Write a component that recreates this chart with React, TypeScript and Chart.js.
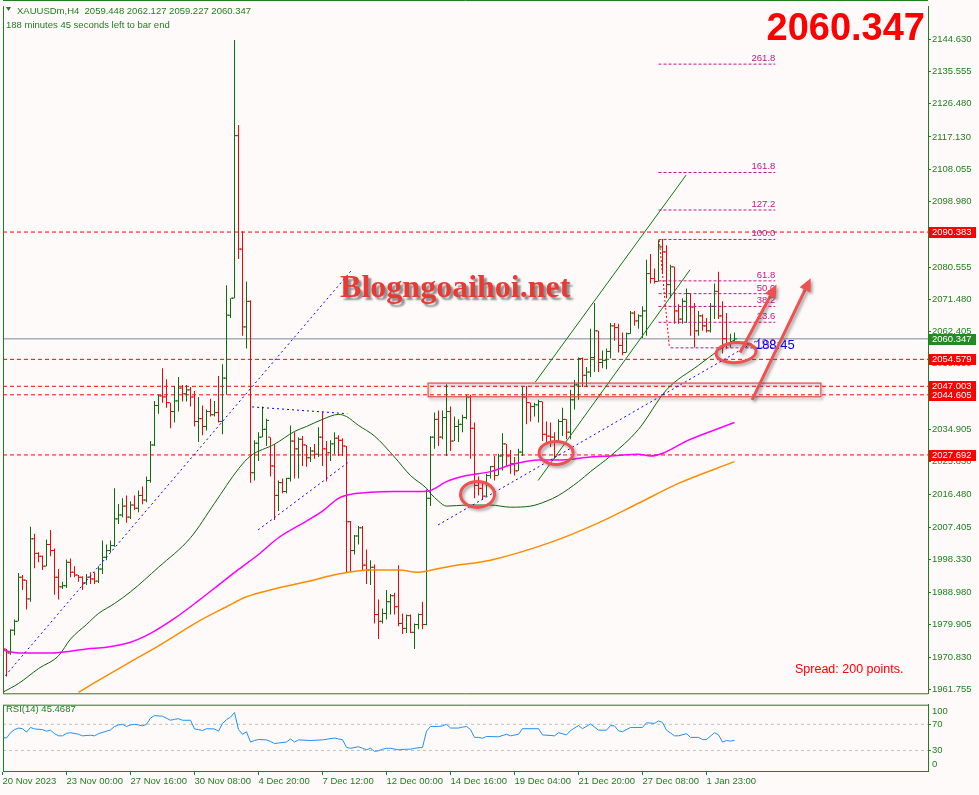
import React, { useEffect, useRef } from "react";
import { Chart, registerables } from "chart.js";
Chart.register(...registerables);

// ---------------- DATA ----------------
const opens = [1980.0,1973.1,1972.0,1978.4,1980.9,1993.3,1992.5,1987.2,2004.1,2000.0,1999.2,1996.4,2002.5,2000.8,1993.3,1990.6,1990.9,1997.5,1994.7,1993.9,1993.3,1991.7,1993.3,1992.8,1992.2,1995.6,1998.9,2000.8,2002.2,2009.7,2010.8,2013.3,2010.2,2013.6,2012.7,2016.3,2015.0,2020.5,2030.5,2041.6,2044.3,2044.0,2042.4,2039.9,2042.9,2046.5,2044.9,2046.0,2044.0,2037.1,2037.9,2035.7,2039.9,2039.0,2039.6,2037.1,2049.3,2067.0,2071.8,2117.5,2085.6,2063.7,2070.9,2022.7,2031.0,2032.7,2034.9,2032.7,2024.6,2016.3,2019.9,2017.4,2021.1,2031.6,2029.4,2032.1,2030.5,2026.9,2028.8,2027.9,2032.7,2029.4,2028.3,2030.8,2032.4,2031.8,2030.2,2008.9,2000.8,2004.9,2007.2,1996.7,1995.3,1996.1,1982.8,1980.9,1983.1,1986.4,1988.1,1985.0,1980.3,1978.9,1982.5,1977.8,1980.0,1982.8,1980.0,2015.5,2032.7,2037.7,2032.7,2038.2,2039.9,2031.6,2035.7,2036.3,2038.2,2044.0,2035.2,2019.1,2018.3,2016.1,2021.9,2024.4,2021.9,2027.4,2030.8,2027.4,2025.2,2023.2,2028.5,2044.0,2042.4,2041.3,2041.8,2042.7,2033.5,2033.0,2032.7,2031.6,2037.1,2037.7,2034.1,2043.2,2047.4,2054.8,2050.1,2051.0,2055.1,2062.6,2053.7,2054.3,2056.8,2064.0,2063.5,2058.5,2056.5,2061.8,2067.6,2065.4,2066.8,2068.2,2078.7,2077.3,2076.5,2086.2,2084.8,2075.6,2080.6,2068.2,2065.9,2070.9,2073.1,2069.3,2062.6,2066.8,2064.0,2062.6,2069.5,2073.7,2066.8,2060.4,2058.7,2059.448];
const highs = [1980.6,1973.1,1978.7,1981.4,1994.5,1993.9,1992.5,2007.5,2005.5,2000.3,1999.4,2003.9,2006.6,2001.4,1995.6,1992.0,1998.3,1998.6,1996.4,1993.9,1993.6,1994.2,1994.7,1994.7,1996.4,2003.6,2002.5,2003.6,2018.3,2013.9,2015.5,2016.3,2014.7,2016.3,2017.7,2018.8,2021.6,2031.6,2042.9,2044.6,2052.1,2049.0,2042.4,2047.1,2049.6,2047.4,2047.4,2046.8,2045.7,2044.0,2041.6,2040.5,2043.5,2042.9,2049.9,2053.2,2075.4,2071.8,2144.4,2120.5,2090.6,2076.5,2071.2,2031.8,2034.1,2041.3,2037.9,2032.7,2030.8,2020.5,2021.1,2021.3,2036.0,2034.1,2032.7,2033.0,2030.5,2029.9,2030.8,2035.5,2039.9,2031.6,2031.8,2034.1,2033.2,2032.4,2030.2,2009.1,2005.2,2007.7,2007.7,2001.1,1998.1,1996.9,1987.0,1984.5,1989.7,1988.6,1988.9,1996.7,1983.1,1982.8,1982.8,1980.3,1983.1,1986.4,2018.0,2033.0,2039.6,2040.2,2040.2,2047.6,2041.3,2038.5,2037.7,2039.0,2044.6,2044.6,2036.8,2021.6,2020.2,2022.4,2024.6,2027.4,2028.0,2033.8,2030.8,2029.1,2027.1,2029.4,2046.8,2047.1,2042.4,2042.4,2043.2,2042.7,2037.1,2036.8,2034.1,2037.7,2041.0,2037.7,2046.0,2048.8,2055.1,2055.1,2052.4,2063.2,2070.4,2062.6,2057.1,2057.6,2064.8,2064.8,2064.6,2062.1,2062.1,2068.2,2068.2,2067.3,2069.5,2082.6,2084.2,2080.1,2088.1,2088.4,2086.7,2081.2,2080.6,2070.1,2071.8,2074.5,2073.1,2070.4,2068.2,2067.3,2066.2,2070.4,2075.9,2079.2,2070.9,2067.6,2061.8,2062.127];
const lows = [1972.3,1965.4,1971.5,1977.0,1980.9,1989.7,1984.2,1986.4,1995.8,1997.5,1995.3,1996.4,1999.2,1988.4,1987.0,1990.0,1990.3,1993.3,1993.3,1992.0,1989.7,1991.1,1991.4,1991.4,1991.7,1994.2,1998.1,2000.3,2001.9,2008.3,2010.2,2008.6,2009.7,2012.2,2011.6,2013.8,2014.4,2019.9,2030.2,2039.3,2042.4,2041.0,2035.2,2036.8,2039.9,2042.7,2042.7,2041.3,2035.7,2031.3,2033.2,2034.6,2038.5,2038.5,2036.8,2033.5,2044.6,2066.2,2071.8,2082.8,2061.2,2057.6,2019.9,2020.5,2026.0,2032.7,2030.2,2021.6,2009.4,2011.9,2016.9,2016.9,2020.2,2021.1,2021.1,2024.6,2024.4,2025.7,2026.6,2027.1,2024.6,2020.2,2026.0,2027.9,2027.4,2027.4,1994.7,1994.7,1999.7,2002.5,1995.3,1991.4,1991.1,1980.3,1975.9,1980.3,1981.4,1982.8,1982.8,1979.5,1977.3,1977.6,1977.6,1973.1,1978.7,1978.7,1979.8,2013.3,2029.4,2030.2,2032.1,2027.4,2028.8,2031.6,2031.3,2034.1,2037.7,2026.6,2015.5,2016.3,2015.0,2016.1,2021.1,2020.5,2021.9,2023.3,2024.4,2022.4,2021.9,2023.2,2027.4,2036.3,2037.1,2038.5,2036.8,2031.6,2031.3,2029.9,2026.6,2031.6,2033.0,2032.1,2032.1,2040.5,2043.2,2046.8,2046.8,2049.6,2051.0,2051.0,2052.1,2051.8,2054.9,2059.8,2056.5,2055.7,2056.5,2061.8,2064.0,2063.2,2060.6,2061.2,2075.9,2075.9,2076.5,2078.7,2071.8,2071.8,2064.6,2064.6,2064.6,2064.8,2061.2,2057.9,2061.2,2062.6,2062.1,2062.1,2065.9,2065.9,2056.2,2057.6,2057.9,2059.227];
const closes = [1973.1,1972.0,1978.4,1980.9,1993.3,1992.5,1987.2,2004.1,2000.0,1999.2,1996.4,2002.5,2000.8,1993.3,1990.6,1990.9,1997.5,1994.7,1993.9,1993.3,1991.7,1993.3,1992.8,1992.2,1995.6,1998.9,2000.8,2002.2,2009.7,2010.8,2013.3,2010.2,2013.6,2012.7,2016.3,2015.0,2020.5,2030.5,2041.6,2044.3,2044.0,2042.4,2039.9,2042.9,2046.5,2044.9,2046.0,2044.0,2037.1,2037.9,2035.7,2039.9,2039.0,2039.6,2037.1,2049.3,2067.0,2071.8,2117.5,2085.6,2063.7,2070.9,2022.7,2031.0,2032.7,2034.9,2037.4,2024.6,2016.3,2019.9,2017.4,2021.1,2031.6,2029.4,2032.1,2030.5,2026.9,2028.8,2027.9,2032.7,2029.4,2028.3,2030.8,2032.4,2031.8,2030.2,2008.9,2000.8,2004.9,2007.2,1996.7,1995.3,1996.1,1982.8,1980.9,1983.1,1986.4,1988.1,1985.0,1980.3,1978.9,1982.5,1977.8,1980.0,1982.8,1980.0,2015.5,2032.7,2037.7,2032.7,2038.2,2039.9,2031.6,2035.7,2036.3,2038.2,2044.0,2035.2,2019.1,2018.3,2016.1,2021.9,2024.4,2021.9,2027.4,2030.8,2027.4,2025.2,2023.2,2028.5,2044.0,2042.4,2041.3,2041.8,2042.7,2033.5,2033.0,2032.7,2031.6,2037.1,2037.7,2034.1,2043.2,2047.4,2054.8,2050.1,2051.0,2055.1,2062.6,2053.7,2054.3,2056.8,2064.0,2063.5,2058.5,2056.5,2061.8,2067.6,2065.4,2066.8,2068.2,2078.7,2077.3,2076.5,2086.2,2084.8,2075.6,2080.6,2068.2,2065.9,2070.9,2073.1,2069.3,2062.6,2066.8,2064.0,2062.6,2069.5,2073.7,2066.8,2060.4,2058.7,2059.4,2060.347];

const timeLabels = ["20 Nov 2023","23 Nov 00:00","27 Nov 16:00","30 Nov 08:00","4 Dec 20:00","7 Dec 12:00","12 Dec 00:00","14 Dec 16:00","19 Dec 04:00","21 Dec 20:00","27 Dec 08:00","1 Jan 23:00"];
const timeLabelBars = [0,16,32,48,64,80,96,112,128,144,160,176];

const priceTicks = [2144.630,2135.555,2126.480,2117.130,2108.055,2098.980,2089.905,2080.555,2071.480,2062.405,2053.330,2043.980,2034.905,2025.830,2016.480,2007.405,1998.330,1988.980,1979.905,1970.830,1961.755];
const levelPrices = [2090.383, 2054.579, 2047.003, 2044.605, 2027.692];
const bidPrice = 2060.347;
const spreadPoints = 200;

const maFastBars = [0,4,9,14,17,21,24,28,32,39,47,53,59,62,68,73,76,80,84,86,89,93,98,102,106,107,109,111,116,122,127,132,136,139,144,147,152,159,166,174,179,183];
const maFastValues = [1960.9,1963.4,1967.6,1971.2,1975.9,1980.0,1983.1,1985.9,1989.2,1996.1,2004.4,2014.1,2023.8,2027.4,2030.7,2034.3,2035.7,2037.7,2039.1,2038.5,2036.0,2033.0,2027.1,2021.9,2018.3,2016.9,2014.7,2013.3,2013.6,2013.6,2013.0,2013.3,2014.7,2016.3,2020.2,2023.0,2027.4,2034.9,2046.0,2052.9,2057.1,2060.1];
const maMidBars = [0,4,12,17,21,26,32,37,43,49,54,59,64,69,76,80,84,87,92,98,105,107,111,116,122,128,134,140,147,152,159,162,172,183];
const maMidValues = [1972.8,1972.0,1972.0,1972.5,1973.1,1973.6,1975.0,1977.5,1981.7,1986.7,1991.1,1995.5,1999.7,2004.4,2009.1,2011.9,2015.5,2016.6,2017.2,2017.4,2017.4,2017.7,2020.2,2021.9,2023.0,2025.2,2026.3,2026.3,2027.1,2027.4,2027.9,2027.4,2032.1,2036.8];
const maSlowBars = [19,24,32,39,49,56,61,68,76,84,92,99,104,106,112,122,137,149,159,169,183];
const maSlowValues = [1960.9,1964.3,1969.5,1974.0,1980.9,1985.0,1987.8,1990.0,1992.0,1994.2,1995.3,1995.3,1994.7,1995.0,1996.4,1998.1,2003.1,2008.6,2014.1,2019.7,2025.8];

const rsiBars = [0,1,2,3,4,5,6,7,8,10,11,12,13,14,15,16,17,19,20,22,23,24,26,27,28,29,30,31,32,33,34,35,36,37,38,40,42,43,44,45,47,48,49,50,51,53,54,55,56,57,58,59,60,61,62,63,64,66,67,68,69,71,72,73,74,77,80,83,84,85,86,87,89,90,91,92,93,94,95,96,97,99,101,102,103,105,106,107,109,110,111,112,114,115,116,117,118,119,120,121,124,126,127,129,130,134,135,138,139,141,142,144,145,147,149,151,152,153,154,155,157,160,161,163,164,165,166,168,169,171,172,174,175,176,178,179,180,181,182,183];
const rsiValues = [50.0,49.0,57.1,61.9,64.3,63.3,58.1,65.2,62.9,61.9,59.5,61.0,55.7,52.4,52.4,56.2,57.1,54.8,52.4,53.3,52.4,55.7,59.5,61.4,66.7,69.0,70.0,66.7,69.0,70.0,69.0,67.6,70.0,79.5,83.3,82.4,76.2,77.6,78.6,76.2,76.2,62.9,61.9,60.5,63.3,62.9,59.5,71.4,77.1,81.0,88.1,61.9,54.8,58.6,42.9,45.2,46.7,46.2,43.8,40.5,41.4,42.9,47.6,42.9,46.2,45.2,46.2,49.0,47.6,46.5,34.8,33.3,35.7,33.3,31.0,33.3,28.6,29.5,31.9,33.3,33.3,31.0,31.9,31.9,33.3,34.8,59.5,66.7,66.7,67.6,70.0,64.3,64.3,65.7,66.7,61.9,50.0,50.0,48.6,51.4,50.9,54.8,52.4,54.8,63.3,63.3,53.8,52.4,57.1,53.8,60.5,68.1,63.3,70.5,61.0,61.0,68.1,67.6,60.0,58.6,65.2,65.2,72.4,71.4,75.2,72.9,61.0,52.4,52.4,55.7,50.0,50.0,46.7,46.7,57.1,53.8,42.9,45.2,44.3,45.4687];
const rsiLevels = [70, 30];

const fibLevels = [0, 23.6, 38.2, 50, 61.8, 100, 127.2, 161.8, 261.8];
const fibLow = 2057.82;
const fibHigh = 2088.30;

// drawings in (bar index, price) space
const blueTrendLines = [[0.7,1965.6,87.4,2079.8],[62.4,2041.2,86.2,2039.3],[63.9,2006.6,86.9,2026.0],[108.9,2008.0,189.4,2060.4]];
const channelLines = [[133.2,2048.2,170.9,2106.4],[133.9,2020.5,171.9,2079.8]];
const fibDrawing = { start: 164, zeroStart: 167, end: 193.2, diag: [164.2, 2088.1, 166.7, 2058.2] };
const zoneRect = [106.4, 2047.9, 204.6, 2044.05];
const ellipses = [{ b: 118.75, p: 2016.6, rx: 17, ry: 13, rot: 0 }, { b: 138.4, p: 2028.25, rx: 17, ry: 11.5, rot: 0 }, { b: 183.4, p: 2056.5, rx: 20, ry: 10, rot: -0.08 }];
const arrows = [[184.4, 2056.5, 193.5, 2075.6], [187.4, 2043.2, 202.05, 2077.4]];
const watermark = { b: 84.4, p: 2072.0, text: "Blogngoaihoi.net" };
const timerLabel = { b: 188.1, p: 2058.5, text: "188:45" };

// ---------------- STYLE ----------------
const X_MIN = 0.125, X_MAX = 231.375;
const P_MIN = 1960.65, P_MAX = 2153.77;
const GREEN = "#1f7f1f";
const UP = "#0b6e0b";
const DOWN = "#ff0000";
const FIB = "#c71585";
const FONT = "'Liberation Sans', Arial, sans-serif";
Chart.defaults.font.family = FONT;

const barIdx = opens.map((_, i) => i);
const barColors = barIdx.map((i) => (closes[i] >= opens[i] ? UP : DOWN));

const lineDs = (pts: any[], color: string, width: number, dash: number[] = [], order = 1, smooth = false) => ({
  type: "line",
  data: pts,
  borderColor: color,
  borderWidth: width,
  borderDash: dash,
  pointRadius: 0,
  pointHoverRadius: 0,
  fill: false,
  order,
  tension: smooth ? 0.4 : 0,
  cubicInterpolationMode: smooth ? "monotone" : "default",
});

function drawArrow(ctx: CanvasRenderingContext2D, x1: number, y1: number, x2: number, y2: number) {
  const ang = Math.atan2(y2 - y1, x2 - x1);
  const head = 13, hw = 6;
  const bx = x2 - head * Math.cos(ang), by = y2 - head * Math.sin(ang);
  ctx.beginPath(); ctx.moveTo(x1, y1); ctx.lineTo(bx, by); ctx.stroke();
  ctx.beginPath(); ctx.moveTo(x2, y2);
  ctx.lineTo(bx + hw * Math.sin(ang), by - hw * Math.cos(ang));
  ctx.lineTo(bx - hw * Math.sin(ang), by + hw * Math.cos(ang));
  ctx.closePath(); ctx.fill();
}

const overlayA = {
  id: "overlayA",
  afterDatasetsDraw(chart: any) {
    const { ctx, chartArea: ca, scales } = chart;
    const X = (b: number) => scales.x.getPixelForValue(b);
    const Y = (p: number) => scales.y.getPixelForValue(p);
    ctx.save();
    ctx.beginPath(); ctx.rect(ca.left, ca.top, ca.right - ca.left, ca.bottom - ca.top); ctx.clip();
    // fib labels
    ctx.font = `9.5px ${FONT}`; ctx.fillStyle = FIB; ctx.textAlign = "right"; ctx.textBaseline = "bottom";
    fibLevels.forEach((l) => {
      const p = fibLow + ((fibHigh - fibLow) * l) / 100;
      ctx.fillText(l.toFixed(1), X(fibDrawing.end), Y(p) - 1);
    });
    // timer label
    ctx.font = `13px ${FONT}`; ctx.fillStyle = "#0000ff"; ctx.textAlign = "left"; ctx.textBaseline = "middle";
    ctx.fillText(timerLabel.text, X(timerLabel.b), Y(timerLabel.p));
    // shadowed drawings
    ctx.shadowColor = "rgba(60,60,60,0.45)"; ctx.shadowBlur = 3; ctx.shadowOffsetX = 2; ctx.shadowOffsetY = 2;
    ctx.strokeStyle = "#e34848"; ctx.lineWidth = 1.2;
    const rx1 = X(zoneRect[0]), ry1 = Y(zoneRect[1]), rx2 = X(zoneRect[2]), ry2 = Y(zoneRect[3]);
    ctx.strokeRect(rx1, ry1, rx2 - rx1, ry2 - ry1);
    ctx.strokeStyle = "#ef5050"; ctx.fillStyle = "#ef5050"; ctx.lineWidth = 3;
    ellipses.forEach((e) => { ctx.beginPath(); ctx.ellipse(X(e.b), Y(e.p), e.rx, e.ry, e.rot, 0, Math.PI * 2); ctx.stroke(); });
    arrows.forEach((a) => drawArrow(ctx, X(a[0]), Y(a[1]), X(a[2]), Y(a[3])));
    // watermark
    ctx.shadowColor = "rgba(50,50,50,0.55)"; ctx.shadowBlur = 2; ctx.shadowOffsetX = 3; ctx.shadowOffsetY = 3;
    ctx.font = `bold 32px 'Liberation Serif', 'Times New Roman', serif`; ctx.fillStyle = "#e83a34";
    ctx.textAlign = "left"; ctx.textBaseline = "alphabetic";
    ctx.fillText(watermark.text, X(watermark.b), Y(watermark.p));
    ctx.restore();
  },
  afterDraw(chart: any) {
    const { ctx, chartArea: ca, scales } = chart;
    const Y = (p: number) => scales.y.getPixelForValue(p);
    ctx.save();
    // frame
    ctx.strokeStyle = GREEN; ctx.lineWidth = 1;
    ctx.beginPath();
    ctx.moveTo(3.5, ca.top - 0.5); ctx.lineTo(3.5, ca.bottom + 0.5);
    ctx.moveTo(3, ca.bottom + 0.5); ctx.lineTo(ca.right, ca.bottom + 0.5);
    ctx.moveTo(3, 0.5); ctx.lineTo(ca.right, 0.5);
    ctx.stroke();
    // price labels
    ctx.font = `9.5px ${FONT}`; ctx.textAlign = "left"; ctx.textBaseline = "middle";
    const tag = (p: number, bg: string) => {
      const y = Math.round(Y(p));
      ctx.fillStyle = bg; ctx.fillRect(929, y - 5, 47, 11);
      ctx.fillStyle = "#ffffff"; ctx.fillText(p.toFixed(3), 932, y + 0.5);
    };
    levelPrices.forEach((p) => tag(p, "#ff0000"));
    tag(bidPrice, "#228b22");
    // header
    const last = closes.length - 1;
    ctx.fillStyle = GREEN;
    ctx.beginPath(); ctx.moveTo(6, 7); ctx.lineTo(11, 7); ctx.lineTo(8.5, 11); ctx.closePath(); ctx.fill();
    ctx.textBaseline = "alphabetic";
    ctx.fillText(`XAUUSDm,H4  ${opens[last].toFixed(3)} ${highs[last].toFixed(3)} ${lows[last].toFixed(3)} ${closes[last].toFixed(3)}`, 17, 13.5);
    ctx.fillText("188 minutes 45 seconds left to bar end", 6, 27.5);
    // big price
    ctx.font = `bold 38px ${FONT}`; ctx.fillStyle = "#ff0000"; ctx.textAlign = "right";
    ctx.fillText(closes[last].toFixed(3), 925, 40);
    // spread
    ctx.font = `12.5px ${FONT}`; ctx.textAlign = "left";
    ctx.fillText(`Spread: ${spreadPoints} points.`, 795, 673);
    ctx.restore();
  },
};

const overlayB = {
  id: "overlayB",
  afterDraw(chart: any) {
    const { ctx, chartArea: ca, scales } = chart;
    ctx.save();
    ctx.strokeStyle = GREEN; ctx.lineWidth = 1;
    ctx.beginPath();
    ctx.moveTo(3.5, ca.top + 0.5); ctx.lineTo(3.5, ca.bottom);
    ctx.moveTo(3, ca.top + 0.5); ctx.lineTo(ca.right, ca.top + 0.5);
    ctx.stroke();
    ctx.font = `9.5px ${FONT}`; ctx.fillStyle = GREEN; ctx.textAlign = "left"; ctx.textBaseline = "middle";
    ctx.fillText(`RSI(14) ${rsiValues[rsiValues.length - 1].toFixed(4)}`, 6, 11);
    ctx.fillText("100", 932, scales.y.getPixelForValue(100) + 7);
    ctx.fillText("0", 932, scales.y.getPixelForValue(0) - 6);
    ctx.restore();
  },
};

export default function App() {
  const topRef = useRef<HTMLCanvasElement>(null);
  const botRef = useRef<HTMLCanvasElement>(null);

  useEffect(() => {
    const levelDs = levelPrices.map((lv) => lineDs([{ x: X_MIN, y: lv }, { x: X_MAX, y: lv }], "#ff0000", 1, [4, 3], 9));
    const bidDs = lineDs([{ x: X_MIN, y: bidPrice }, { x: X_MAX, y: bidPrice }], "#778899", 1, [], 9);
    const wickDs = {
      type: "bar",
      data: barIdx.map((i) => ({ x: i, y: [lows[i], highs[i]] })),
      backgroundColor: barColors,
      barThickness: 1,
      grouped: false,
      inflateAmount: 0,
      borderWidth: 0,
      order: 6,
    };
    const tickDs = (vals: number[], off: number) => ({
      type: "line",
      data: barIdx.map((i) => ({ x: i + off, y: vals[i] })),
      showLine: false,
      pointStyle: "line",
      pointRadius: 1,
      pointHoverRadius: 1,
      pointBorderWidth: 1,
      pointBorderColor: barColors,
      pointBackgroundColor: barColors,
      order: 5,
    });
    const maDs = [
      lineDs(maSlowBars.map((b, k) => ({ x: b, y: maSlowValues[k] })), "#ff8c00", 1.5, [], 3, true),
      lineDs(maMidBars.map((b, k) => ({ x: b, y: maMidValues[k] })), "#ff00ff", 1.5, [], 3, true),
      lineDs(maFastBars.map((b, k) => ({ x: b, y: maFastValues[k] })), "#0a640a", 1, [], 3, true),
    ];
    const trendDs = blueTrendLines.map((t) => lineDs([{ x: t[0], y: t[1] }, { x: t[2], y: t[3] }], "#0000ff", 1, [2, 3], 2));
    const chanDs = channelLines.map((t) => lineDs([{ x: t[0], y: t[1] }, { x: t[2], y: t[3] }], "#0a7a0a", 1, [], 2));
    const fibDs = fibLevels.map((l) => {
      const p = fibLow + ((fibHigh - fibLow) * l) / 100;
      return lineDs([{ x: l === 0 ? fibDrawing.zeroStart : fibDrawing.start, y: p }, { x: fibDrawing.end, y: p }], FIB, 1, [3, 2], 1);
    });
    const d = fibDrawing.diag;
    const fibDiag = lineDs([{ x: d[0], y: d[1] }, { x: d[2], y: d[3] }], "#ff0000", 1, [2, 2], 1);

    const a = new Chart(topRef.current as HTMLCanvasElement, {
      type: "bar",
      data: { datasets: [...levelDs, bidDs, wickDs, tickDs(opens, -0.375), tickDs(closes, 0.375), ...maDs, ...trendDs, ...chanDs, ...fibDs, fibDiag] as any },
      options: {
        animation: false,
        responsive: false,
        devicePixelRatio: 1,
        events: [],
        layout: { padding: { left: 3, top: 1, right: 0, bottom: 2 } },
        plugins: { legend: { display: false }, tooltip: { enabled: false } },
        scales: {
          x: { type: "linear", min: X_MIN, max: X_MAX, display: false, offset: false, grid: { offset: false } },
          y: {
            type: "linear",
            position: "right",
            min: P_MIN,
            max: P_MAX,
            afterBuildTicks: (s: any) => { s.ticks = priceTicks.map((v) => ({ value: v })); },
            afterFit: (s: any) => { s.width = 51; },
            ticks: { callback: (v: any) => Number(v).toFixed(3), color: GREEN, font: { size: 9.5 }, padding: 1, autoSkip: false },
            grid: { drawOnChartArea: false, drawTicks: true, tickLength: 3, color: GREEN },
            border: { display: true, color: GREEN },
          },
        },
      } as any,
      plugins: [overlayA],
    });

    const rsiDs = lineDs(rsiBars.map((b, k) => ({ x: b, y: rsiValues[k] })), "#1e90ff", 1, [], 1);
    const rsiLvlDs = rsiLevels.map((lv) => lineDs([{ x: X_MIN, y: lv }, { x: X_MAX, y: lv }], "#c0c0c0", 1, [3, 3], 2));
    const b = new Chart(botRef.current as HTMLCanvasElement, {
      type: "line",
      data: { datasets: [rsiDs, ...rsiLvlDs] as any },
      options: {
        animation: false,
        responsive: false,
        devicePixelRatio: 1,
        events: [],
        layout: { padding: { left: 3, top: 2, right: 0, bottom: 0 } },
        plugins: { legend: { display: false }, tooltip: { enabled: false } },
        scales: {
          x: {
            type: "linear",
            min: X_MIN,
            max: X_MAX,
            offset: false,
            position: "bottom",
            afterBuildTicks: (s: any) => { s.ticks = timeLabelBars.map((v) => ({ value: v })); },
            afterFit: (s: any) => { s.height = 24; },
            ticks: {
              callback: (v: any) => { const k = timeLabelBars.indexOf(Number(v)); return k >= 0 ? timeLabels[k] : ""; },
              align: "start",
              maxRotation: 0,
              autoSkip: false,
              color: GREEN,
              font: { size: 9.5 },
              padding: 1,
            },
            grid: { drawOnChartArea: false, drawTicks: true, tickLength: 4, color: GREEN },
            border: { display: true, color: GREEN },
          },
          y: {
            type: "linear",
            position: "right",
            min: -1.43,
            max: 100,
            afterBuildTicks: (s: any) => { s.ticks = rsiLevels.map((v) => ({ value: v })); },
            afterFit: (s: any) => { s.width = 51; },
            ticks: { color: GREEN, font: { size: 9.5 }, padding: 1, autoSkip: false },
            grid: { drawOnChartArea: false, drawTicks: true, tickLength: 3, color: GREEN },
            border: { display: true, color: GREEN },
          },
        },
      } as any,
      plugins: [overlayB],
    });
    return () => { a.destroy(); b.destroy(); };
  }, []);

  return (
    <div style={{ position: "absolute", left: 0, top: 0, width: 979, height: 795, background: "#fffafa", overflow: "hidden" }}>
      <canvas ref={topRef} width={979} height={700} style={{ position: "absolute", left: 0, top: 0 }} />
      <canvas ref={botRef} width={979} height={97} style={{ position: "absolute", left: 0, top: 698 }} />
    </div>
  );
}
